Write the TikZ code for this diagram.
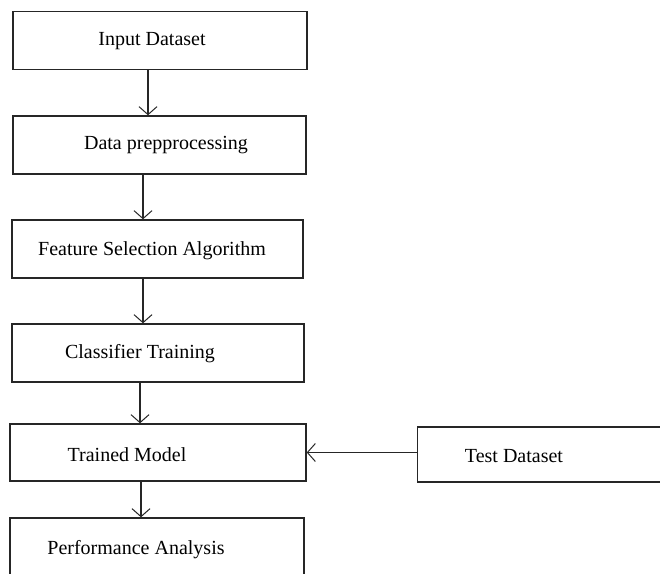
\documentclass[tikz,border=0pt]{standalone}
\usepackage{fontspec}
\setmainfont{Liberation Serif}
\usetikzlibrary{arrows.meta}

\begin{document}
\begin{tikzpicture}[
  x=0.5pt, y=-0.5pt,
  box/.style={draw=black!85, line width=0.7pt, minimum width=#1,
    minimum height=29pt, inner sep=0pt},
  lbl/.style={font=\fontsize{10}{12}\selectfont, inner sep=0pt},
  flow/.style={draw=black!85, line width=0.6pt,
    -{Straight Barb[length=4pt,width=9pt,line width=0.5pt]}},
  ]
  \useasboundingbox (0,0) rectangle (660,574);
  \clip (0,0) rectangle (660,574);
  % steps
  \node[box=147pt] (input) at (160,40.5) {};
  \node[box=146.5pt] (prep) at (159.5,145) {};
  \node[box=145.5pt] (feat) at (157.5,249) {};
  \node[box=146pt] (clf) at (158,353) {};
  \node[box=148pt, minimum height=28.5pt] (model) at (158,452.5) {};
  \node[box=147pt, minimum height=50pt] (perf) at (157,568) {};
  \node[box=124pt, minimum height=27.5pt] (test) at (541.5,454.5) {};
  % texts
  \node[lbl] (input-t) at (152,41.5) {Input Dataset};
  \node[lbl] (prep-t) at (166,145.5) {Data prepprocessing};
  \node[lbl] (feat-t) at (152,250.5) {Feature Selection Algorithm};
  \node[lbl] (clf-t) at (140,353.5) {Classifier Training};
  \node[lbl] (model-t) at (127,454.5) {Trained Model};
  \node[lbl] (perf-t) at (136,549.5) {Performance Analysis};
  \node[lbl] (test-t) at (514,456.5) {Test Dataset};
  % arrows
  \draw[flow] ([xshift=-6pt]input.south) -- ([xshift=-5.75pt]prep.north);
  \draw[flow] ([xshift=-8.25pt]prep.south) -- ([xshift=-7.25pt]feat.north);
  \draw[flow] ([xshift=-7.25pt]feat.south) -- ([xshift=-7.5pt]clf.north);
  \draw[flow] ([xshift=-9pt]clf.south) -- ([xshift=-9pt]model.north);
  \draw[flow] ([xshift=-8.5pt]model.south) -- ([xshift=-8pt]perf.north);
  \draw[flow] (test.west |- model.east) -- (model.east);
\end{tikzpicture}
\end{document}
